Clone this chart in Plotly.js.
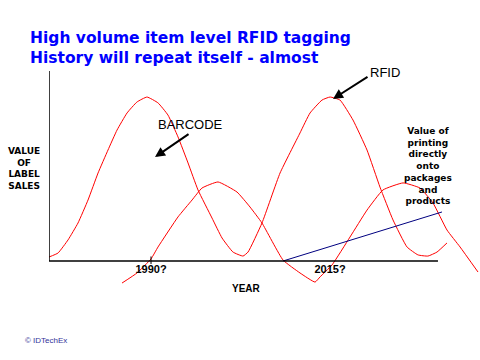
<!DOCTYPE html>
<html>
<head>
<meta charset="utf-8">
<script src="https://cdn.plot.ly/plotly-3.0.1.min.js"></script>
<style>html,body{margin:0;padding:0;background:#fff;}#chart{width:480px;height:360px;}</style>
</head>
<body>
<div id="chart"></div>
<script>
// Main wave: BARCODE peak, then RFID peak
const waveYears = [1975.75, 1977.01, 1978.41, 1979.80, 1981.20, 1982.60, 1983.99, 1985.25, 1986.65, 1988.04, 1989.44, 1990.98, 1992.37, 1993.77, 1995.17, 1996.56, 1998.52, 1999.92, 2001.45, 2002.85, 2003.55, 2005.50, 2008.02, 2010.81, 2012.21, 2013.88, 2015.00, 2016.40, 2018.21, 2020.17, 2021.98, 2023.80, 2025.75, 2027.29, 2028.69, 2029.94, 2031.34];
const waveValues = [2.1, 4.2, 11.1, 20.0, 32.1, 46.3, 58.4, 68.9, 77.9, 83.7, 86.3, 83.2, 76.8, 65.3, 51.6, 37.4, 22.6, 12.1, 4.7, 2.6, 4.7, 20.0, 46.3, 67.4, 77.9, 84.7, 86.3, 84.7, 74.2, 58.4, 38.9, 21.6, 7.4, 3.2, 2.6, 4.7, 9.5];

// Smaller secondary wave
const smallWaveYears = [1985.95, 1988.04, 1990.00, 1990.98, 1993.77, 1995.73, 1997.12, 1999.36, 2002.01, 2003.83, 2005.50, 2008.44, 2010.81, 2012.91, 2013.60, 2015.28, 2017.79, 2020.17, 2022.40, 2025.20, 2027.57, 2029.39, 2031.34, 2033.16, 2035.67];
const smallWaveValues = [-11.6, -6.3, 1.1, 7.4, 23.2, 32.1, 38.4, 41.6, 36.3, 28.4, 20.0, 0.5, -6.3, -11.1, -8.4, -2.1, 12.6, 26.8, 37.4, 41.1, 38.4, 30.5, 16.3, 7.4, -5.8];

// Value of printing directly onto packages and products
const printYears = [2008.44, 2030.64];
const printValues = [0, 25.8];

// Axis ticks
const tickYears = [1990, 2015];
const tickLabels = ['1990?', '2015?'];

const FONT = 'Arial, "Liberation Sans", sans-serif';
const WIDE = '"DejaVu Sans", Verdana, sans-serif';

const traces = [
  {x: waveYears, y: waveValues, type: 'scatter', mode: 'lines', line: {color: '#FF0000', width: 1, shape: 'spline', smoothing: 0.4}, hoverinfo: 'skip'},
  {x: smallWaveYears, y: smallWaveValues, type: 'scatter', mode: 'lines', line: {color: '#FF0000', width: 1, shape: 'spline', smoothing: 0.4}, hoverinfo: 'skip'},
  {x: printYears, y: printValues, type: 'scatter', mode: 'lines', line: {color: '#000080', width: 1}, hoverinfo: 'skip'}
];

const xMin = 1975.75, xAxisEnd = 2030.08;
const yTop = 100;

const layout = {
  width: 480, height: 360,
  margin: {l: 49, r: 0, t: 71, b: 70, pad: 0},
  paper_bgcolor: '#ffffff', plot_bgcolor: '#ffffff',
  showlegend: false,
  title: {
    text: 'High volume item level RFID tagging<br>History will repeat itself - almost',
    x: 30 / 480, xref: 'container', xanchor: 'left',
    y: 1 - 43 / 360, yref: 'container', yanchor: 'middle',
    font: {family: WIDE, size: 15.5, weight: 'bold', color: '#0000FF'}
  },
  xaxis: {
    range: [xMin, 2035.95], anchor: 'free', position: 29 / 219,
    showgrid: false, zeroline: false, showline: false,
    tickmode: 'array', tickvals: tickYears, ticktext: tickLabels, ticks: '',
    tickfont: {family: FONT, size: 11, weight: 'bold', color: '#000000'},
    fixedrange: true
  },
  yaxis: {
    range: [-15.263, yTop], visible: false, fixedrange: true
  },
  shapes: [
    {type: 'line', xref: 'x', yref: 'y', x0: xMin, x1: xAxisEnd, y0: 0, y1: 0, line: {color: '#000000', width: 1.5}},
    {type: 'line', xref: 'x', yref: 'y', x0: xMin, x1: xMin, y0: 0, y1: yTop, line: {color: '#000000', width: 1.5}},
    {type: 'line', xref: 'x', yref: 'y', x0: tickYears[0], x1: tickYears[0], y0: -1.6, y1: 2.4, line: {color: '#000000', width: 1}}
  ],
  annotations: [
    {text: 'BARCODE', xref: 'paper', yref: 'paper', x: (190 - 49) / 431, y: (290 - 124) / 219, showarrow: false, xanchor: 'center', yanchor: 'middle', font: {family: FONT, size: 13, color: '#000000'}},
    {text: '', xref: 'x', yref: 'y', x: 1990.56, y: 54.7, ax: 35, ay: -24, showarrow: true, arrowhead: 2, arrowsize: 1, arrowwidth: 2, arrowcolor: '#000000'},
    {text: 'RFID', xref: 'paper', yref: 'paper', x: (385 - 49) / 431, y: (290 - 72) / 219, showarrow: false, xanchor: 'center', yanchor: 'middle', font: {family: FONT, size: 13, color: '#000000'}},
    {text: '', xref: 'x', yref: 'y', x: 2015.42, y: 85.3, ax: 36, ay: -23, showarrow: true, arrowhead: 2, arrowsize: 1, arrowwidth: 2, arrowcolor: '#000000'},
    {text: 'Value of<br>printing<br>directly<br>onto<br>packages<br>and<br>products', xref: 'paper', yref: 'paper', x: (428 - 49) / 431, y: (290 - 166) / 219, showarrow: false, xanchor: 'center', yanchor: 'middle', align: 'center', font: {family: WIDE, size: 9, weight: 'bold', color: '#000000'}},
    {text: 'YEAR', xref: 'paper', yref: 'paper', x: (246 - 49) / 431, y: (290 - 288) / 219, showarrow: false, xanchor: 'center', yanchor: 'middle', font: {family: FONT, size: 10, weight: 'bold', color: '#000000'}},
    {text: 'VALUE<br>OF<br>LABEL<br>SALES', xref: 'paper', yref: 'paper', x: (24 - 49) / 431, y: (290 - 168) / 219, showarrow: false, xanchor: 'center', yanchor: 'middle', align: 'center', font: {family: WIDE, size: 9, weight: 'bold', color: '#000000'}},
    {text: '© IDTechEx', xref: 'paper', yref: 'paper', x: (46 - 49) / 431, y: (290 - 340) / 219, showarrow: false, xanchor: 'center', yanchor: 'middle', font: {family: FONT, size: 8, color: '#333399'}}
  ]
};

Plotly.newPlot('chart', traces, layout, {staticPlot: true, displayModeBar: false});
</script>
</body>
</html>
